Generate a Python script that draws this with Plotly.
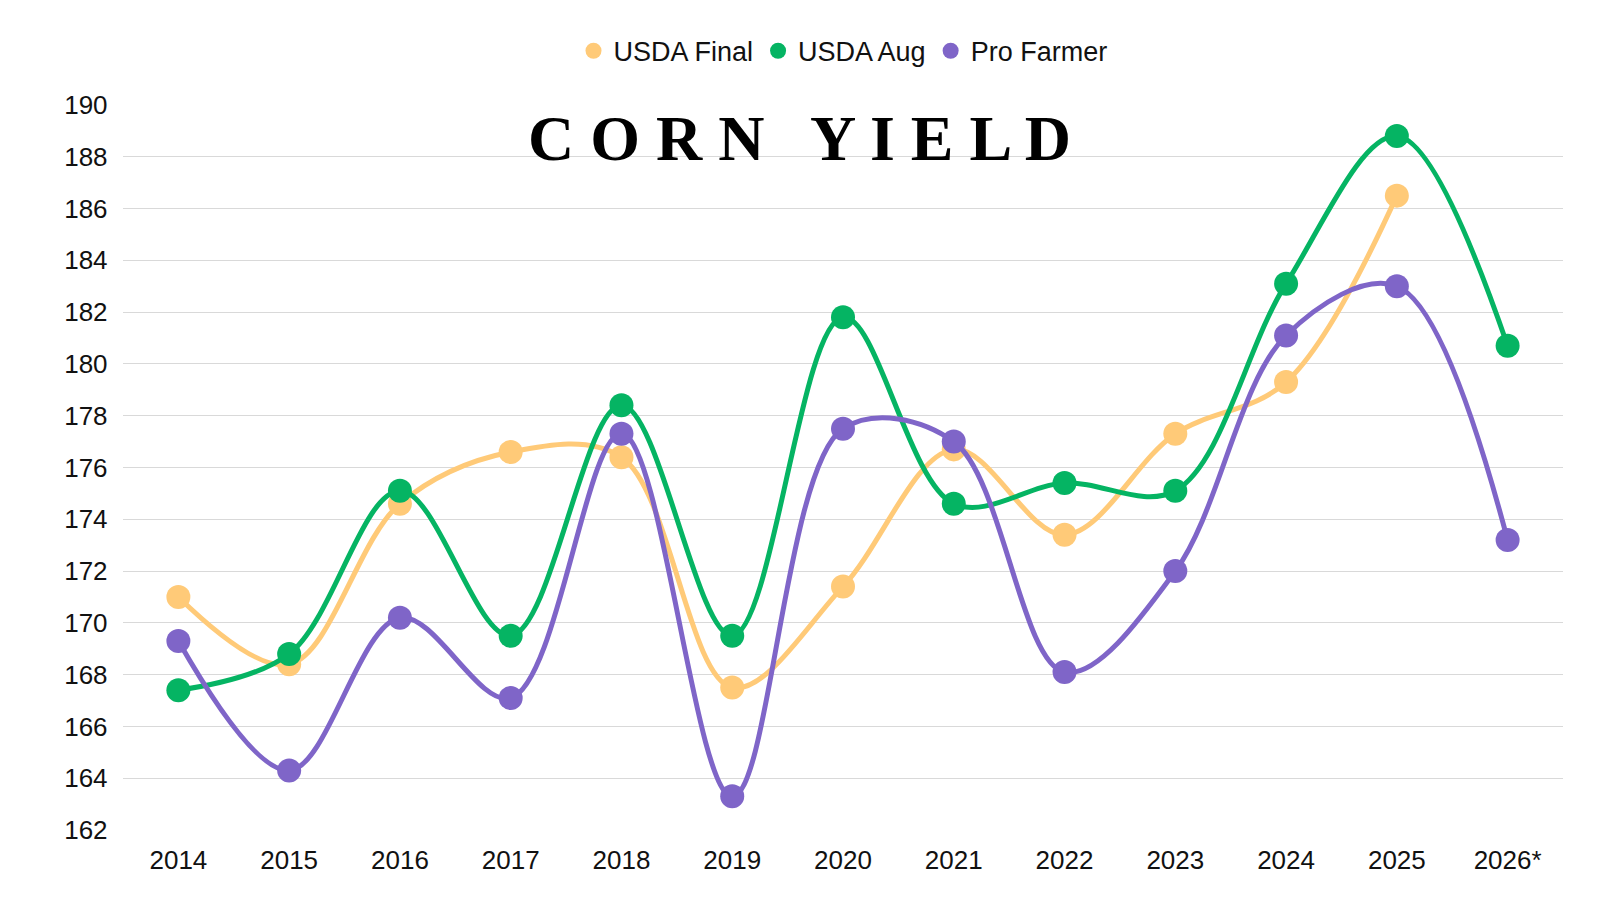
import plotly.graph_objects as go

years = ['2014', '2015', '2016', '2017', '2018', '2019', '2020', '2021', '2022', '2023', '2024', '2025', '2026*']
usda_final = [171.0, 168.4, 174.6, 176.6, 176.4, 167.5, 171.4, 176.7, 173.4, 177.3, 179.3, 186.5, None]
usda_aug = [167.4, 168.8, 175.1, 169.5, 178.4, 169.5, 181.8, 174.6, 175.4, 175.1, 183.1, 188.8, 180.7]
pro_farmer = [169.3, 164.3, 170.2, 167.1, 177.3, 163.3, 177.5, 177.0, 168.1, 172.0, 181.1, 183.0, 173.2]

series = [
    ('USDA Final', usda_final, '#FFCA78'),
    ('USDA Aug', usda_aug, '#05B463'),
    ('Pro Farmer', pro_farmer, '#7F65C8'),
]

fig = go.Figure()
for name, vals, color in series:
    fig.add_trace(go.Scatter(
        x=years, y=vals, name=name, mode='lines+markers', showlegend=False,
        line=dict(color=color, width=5, shape='spline', smoothing=1.0),
        marker=dict(color=color, size=24),
    ))
    # legend entry: plain circle only
    fig.add_trace(go.Scatter(
        x=[None], y=[None], name=name, mode='markers',
        marker=dict(color=color, size=28),
    ))

fig.add_annotation(
    text='C O R N   Y I E L D', xref='paper', yref='paper', x=0.47, y=1.005,
    showarrow=False, yanchor='top',
    font=dict(family='Liberation Sans Narrow', size=64, color='black', weight='bold'),
)

fig.update_layout(
    width=1600, height=900,
    paper_bgcolor='white', plot_bgcolor='white',
    font=dict(family='Liberation Sans, Arial', size=26, color='#111'),
    margin=dict(l=115, r=45, t=97, b=78),
    showlegend=True,
    legend=dict(orientation='h', x=0.5, xanchor='center', y=0.952, yanchor='middle',
                yref='container', font=dict(size=27), itemsizing='trace'),
)
fig.update_xaxes(type='category', showgrid=False, showline=False, ticks='', range=[-0.5, 12.5],
                 ticklabelstandoff=12)
fig.update_yaxes(range=[162, 190], dtick=2, showgrid=True, gridcolor='#d9d9d9',
                 gridwidth=1, zeroline=False, ticks='', ticksuffix='  ')

fig.write_html('out.html')
